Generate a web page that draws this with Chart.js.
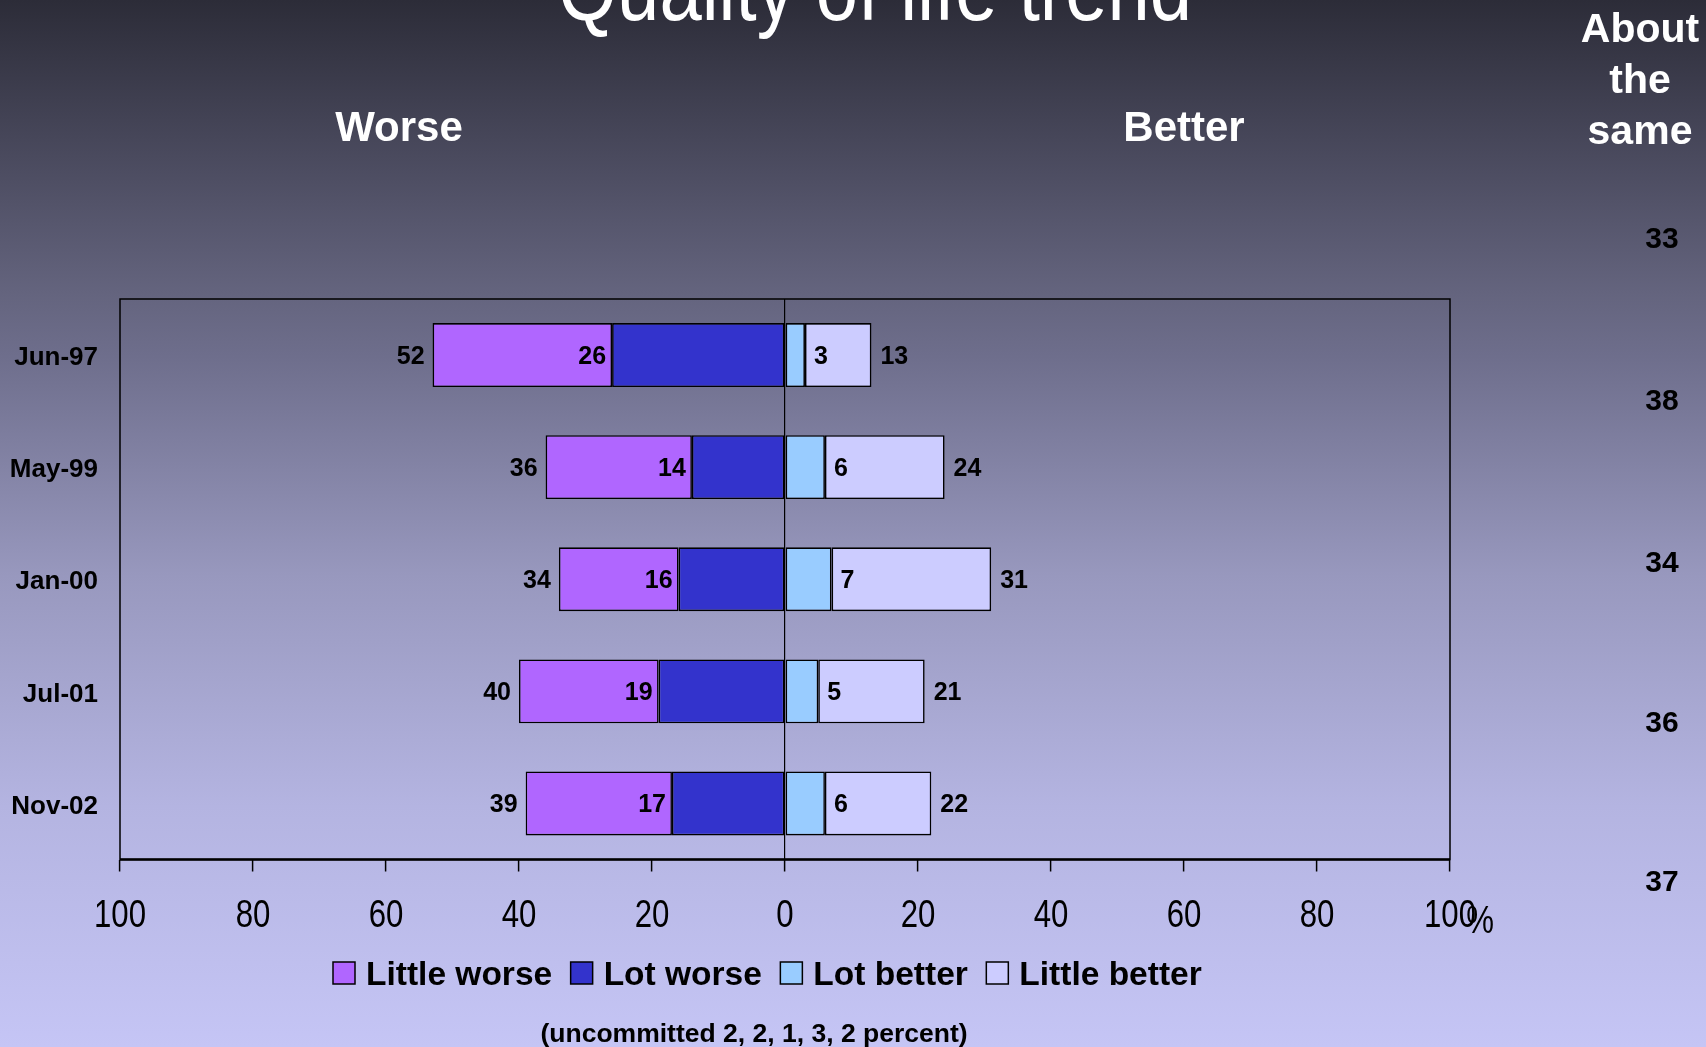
<!DOCTYPE html>
<html><head><meta charset="utf-8">
<script src="https://cdn.jsdelivr.net/npm/chart.js@4.4.1/dist/chart.umd.min.js"></script>
<style>
html,body{margin:0;padding:0;width:1706px;height:1047px;overflow:hidden;
background:linear-gradient(to bottom,#2c2c38 0%,#4a4a5e 15%,#64647e 28%,#6e6e8c 34%,#9898be 55%,#b4b4e1 77%,#c5c5f5 100%);}
canvas{display:block}
</style></head><body>
<canvas id="c" width="1706" height="1047"></canvas>
<script>
const categories = ['Jun-97','May-99','Jan-00','Jul-01','Nov-02'];
const littleWorse = [27, 22, 18, 21, 22];
const lotWorse = [26, 14, 16, 19, 17];
const lotBetter = [3, 6, 7, 5, 6];
const littleBetter = [10, 18, 24, 16, 16];
const worseTotalLabels = [52, 36, 34, 40, 39];
const betterTotalLabels = [13, 24, 31, 21, 22];
const aboutSame = [33, 38, 34, 36, 37];
const uncommitted = [2, 2, 1, 3, 2];
const xMin = -100, xMax = 100, xStep = 20;
const legendOrder = ['Little worse', 'Lot worse', 'Lot better', 'Little better'];

const SANS = "'Liberation Sans',Arial,sans-serif";

const datasets = [
  {label: 'Lot worse', data: lotWorse.map(v => -v), backgroundColor: '#3333CC'},
  {label: 'Little worse', data: littleWorse.map(v => -v), backgroundColor: '#B066FF'},
  {label: 'Lot better', data: lotBetter, backgroundColor: '#99CCFF'},
  {label: 'Little better', data: littleBetter, backgroundColor: '#CCCCFF'}
].map(d => Object.assign(d, {borderColor: '#000', borderWidth: 1.6, borderSkipped: false, stack: 's'}));

function narrowText(ctx, txt, x, y, sx) {
  ctx.save();
  ctx.translate(x, y);
  ctx.scale(sx, 1);
  ctx.fillText(txt, 0, 0);
  ctx.restore();
}

const decor = {
  id: 'decor',
  afterDraw(chart) {
    const ctx = chart.ctx, a = chart.chartArea;
    ctx.save();
    // plot frame
    ctx.strokeStyle = '#000';
    ctx.lineWidth = 1.5;
    ctx.strokeRect(a.left, a.top, a.right - a.left, a.bottom - a.top);
    ctx.lineWidth = 2.5;
    ctx.beginPath(); ctx.moveTo(a.left, a.bottom); ctx.lineTo(a.right, a.bottom); ctx.stroke();

    // x tick labels (condensed), placed at the scale's own tick pixels
    const xs = chart.scales.x;
    ctx.fillStyle = '#000';
    ctx.font = "38px " + SANS;
    ctx.textAlign = 'center';
    ctx.textBaseline = 'middle';
    xs.ticks.forEach((t, i) => {
      narrowText(ctx, String(Math.abs(t.value)), xs.getPixelForTick(i), 917, 0.82);
    });
    narrowText(ctx, '%', 1480, 923, 0.82);

    // data labels
    ctx.font = "bold 25px " + SANS;
    ctx.textBaseline = 'middle';
    const m0 = chart.getDatasetMeta(0).data, m1 = chart.getDatasetMeta(1).data,
          m2 = chart.getDatasetMeta(2).data, m3 = chart.getDatasetMeta(3).data;
    categories.forEach((c, i) => {
      const y = m0[i].y + 2;
      ctx.textAlign = 'right';
      ctx.fillText(String(worseTotalLabels[i]), m1[i].x - 8, y);
      ctx.fillText(String(lotWorse[i]), m0[i].x - 6, y);
      ctx.textAlign = 'left';
      ctx.fillText(String(lotBetter[i]), m2[i].x + 9, y);
      ctx.fillText(String(betterTotalLabels[i]), m3[i].x + 9, y);
    });

    // title
    ctx.fillStyle = '#fff';
    ctx.textAlign = 'center';
    ctx.textBaseline = 'alphabetic';
    ctx.font = "90px " + SANS;
    narrowText(ctx, 'Quality of life trend', 875, 20, 0.845);

    // Worse / Better
    ctx.font = "bold 42px " + SANS;
    ctx.fillText('Worse', 399, 141);
    ctx.fillText('Better', 1184, 141);

    // About the same
    ctx.font = "bold 41px " + SANS;
    ['About', 'the', 'same'].forEach((t, k) => ctx.fillText(t, 1640, 42 + k * 51));

    ctx.fillStyle = '#000';
    ctx.font = "bold 30px " + SANS;
    ctx.textBaseline = 'middle';
    const aboutY = [240, 402, 564, 724, 883];
    aboutSame.forEach((v, i) => ctx.fillText(String(v), 1662, aboutY[i]));

    // legend
    const colors = {};
    chart.data.datasets.forEach(d => colors[d.label] = d.backgroundColor);
    ctx.font = "bold 33.5px " + SANS;
    ctx.textAlign = 'left';
    ctx.textBaseline = 'alphabetic';
    let x = 333;
    const by = 962, bs = 22;
    legendOrder.forEach(lbl => {
      ctx.fillStyle = colors[lbl];
      ctx.fillRect(x, by, bs, bs);
      ctx.lineWidth = 1.5;
      ctx.strokeStyle = '#000';
      ctx.strokeRect(x, by, bs, bs);
      ctx.fillStyle = '#000';
      ctx.fillText(lbl, x + bs + 11, 985);
      x += bs + 11 + ctx.measureText(lbl).width + 18.5;
    });

    // footnote
    ctx.textAlign = 'center';
    ctx.font = "bold 26.5px " + SANS;
    ctx.fillText('(uncommitted ' + uncommitted.join(', ') + ' percent)', 754, 1042);
    ctx.restore();
  }
};

new Chart(document.getElementById('c'), {
  type: 'bar',
  data: {labels: categories, datasets},
  options: {
    responsive: false,
    devicePixelRatio: 1,
    animation: false,
    indexAxis: 'y',
    categoryPercentage: 1,
    barPercentage: 0.57,
    layout: {padding: {top: 299, right: 256, left: 0, bottom: 0}},
    plugins: {legend: {display: false}, tooltip: {enabled: false}, title: {display: false}},
    scales: {
      x: {
        min: xMin, max: xMax,
        afterFit(s) { s.height = 187.5; },
        ticks: {stepSize: xStep, display: false},
        grid: {
          color: c => (c.tick && c.tick.value === 0) ? '#000' : 'rgba(0,0,0,0)',
          lineWidth: 1.2, tickColor: '#000', tickLength: 12, tickWidth: 1.5, drawTicks: true
        },
        border: {display: false}
      },
      y: {
        stacked: true,
        afterFit(s) { s.width = 120; },
        ticks: {color: '#000', padding: 22, labelOffset: 3, font: {family: SANS, size: 26, weight: 'bold'}},
        grid: {display: false, drawTicks: false},
        border: {display: false}
      }
    }
  },
  plugins: [decor]
});
</script>
</body></html>
